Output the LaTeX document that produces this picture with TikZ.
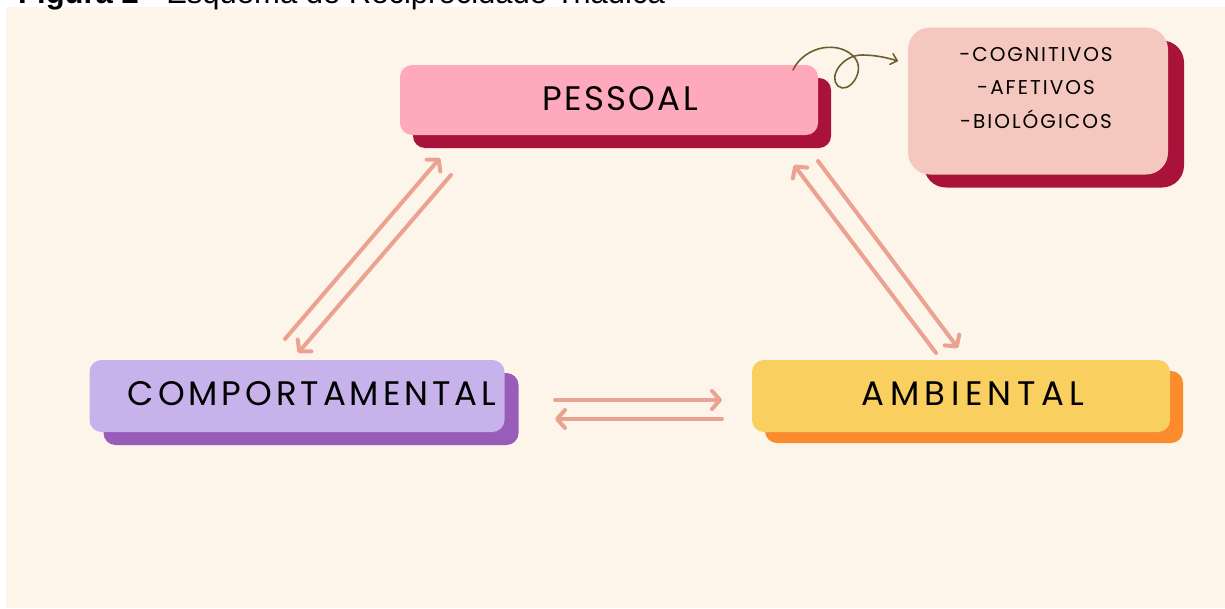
\documentclass[tikz,border=0pt]{standalone}
\usepackage{fontspec}
\setmainfont{Liberation Sans}
\newfontfamily\handA[LetterSpace=7]{Poppins}
\newfontfamily\handB[LetterSpace=11.5]{Poppins}
\newfontfamily\handC[LetterSpace=16]{Poppins}
\newfontfamily\handsmall[LetterSpace=10]{Poppins}
\usetikzlibrary{arrows.meta,shadows}
\definecolor{cream}{HTML}{FDF4EA}
\definecolor{pinkbox}{HTML}{FFA9BC}
\definecolor{crimson}{HTML}{A9133A}
\definecolor{infobox}{HTML}{F4C7BF}
\definecolor{lilac}{HTML}{C7B2EC}
\definecolor{purpleshadow}{HTML}{9A5CB9}
\definecolor{yellowbox}{HTML}{F9CF5F}
\definecolor{orangeshadow}{HTML}{FB8B2D}
\definecolor{arrowc}{HTML}{EBA291}
\definecolor{curlc}{HTML}{6E5E2E}
\tikzset{
  mainbox/.style={rectangle, rounded corners=12pt, inner sep=0pt,
    minimum height=70pt, text=black},
  recip/.style={draw=arrowc, line width=4pt, line cap=round,
    -{Straight Barb[length=8pt,width=18pt,round]}},
}
\begin{document}
\begin{tikzpicture}[x=1pt,y=-1pt]
\useasboundingbox (0,0) rectangle (1225,608);
\fill[white] (0,0) rectangle (1225,608);
\fill[cream] (6,7) rectangle (1225,608);
\node[anchor=base west, inner sep=0pt, font=\fontsize{31}{36}\selectfont] (caption) at (18,3)
  {\textbf{Figura 2} - Esquema de Reciprocidade Triádica};

% boxes
\node[mainbox, fill=pinkbox, minimum width=418pt,
  font=\handA\fontsize{34}{40}\selectfont,
  general shadow={fill=crimson, shadow xshift=13pt, shadow yshift=-13pt}]
  (pessoal) at (609,100) {\hspace*{22pt}\raisebox{3pt}{PESSOAL}};
\node[mainbox, fill=lilac, minimum width=415pt, minimum height=72pt,
  font=\handB\fontsize{34}{40}\selectfont,
  general shadow={fill=purpleshadow, shadow xshift=14pt, shadow yshift=-13pt}]
  (comp) at (297,396) {\hspace*{30pt}\raisebox{5pt}{COMPORTAMENTAL}};
\node[mainbox, fill=yellowbox, minimum width=418pt, minimum height=72pt,
  font=\handC\fontsize{34}{40}\selectfont,
  general shadow={fill=orangeshadow, shadow xshift=13pt, shadow yshift=-11pt}]
  (amb) at (961,396) {\hspace*{24pt}\raisebox{5pt}{AMBIENTAL}};
\node[rectangle, rounded corners=22pt, fill=infobox, minimum width=260pt,
  minimum height=147pt, inner sep=0pt,
  general shadow={fill=crimson, shadow xshift=16pt, shadow yshift=-13pt}]
  (info) at (1038,101) {};
\node[align=center, inner sep=0pt, font=\handsmall\fontsize{20}{33.5}\selectfont]
  (infotext) at (1036,88) {-COGNITIVOS\\-AFETIVOS\\-BIOLÓGICOS};

% reciprocal arrows
\coordinate (a1s) at (285,339); \coordinate (a1e) at (440,158);
\coordinate (a2s) at (451,175); \coordinate (a2e) at (298,353);
\coordinate (b1s) at (936,353); \coordinate (b1e) at (794,165);
\coordinate (b2s) at (818,161); \coordinate (b2e) at (958,348);
\coordinate (c1s) at (555,400); \coordinate (c1e) at (722,400);
\coordinate (c2s) at (722,419); \coordinate (c2e) at (555,419);
\draw[recip] (a1s) -- (a1e);
\draw[recip] (a2s) -- (a2e);
\draw[recip] (b1s) -- (b1e);
\draw[recip] (b2s) -- (b2e);
\draw[recip] (c1s) -- (c1e);
\draw[recip] (c2s) -- (c2e);

% curly arrow
\coordinate (curlstart) at (793,70);
\coordinate (curlend) at (898,61);
\draw[curlc, line width=1.6pt, line cap=round,
  -{Straight Barb[length=6pt,width=11pt,round]}]
  (curlstart) .. controls (805,45) and (840,40) .. (855,58)
  .. controls (866,72) and (848,95) .. (838,86)
  .. controls (828,77) and (842,55) .. (862,55)
  .. controls (876,55) and (888,58) .. (curlend);
\end{tikzpicture}
\end{document}
